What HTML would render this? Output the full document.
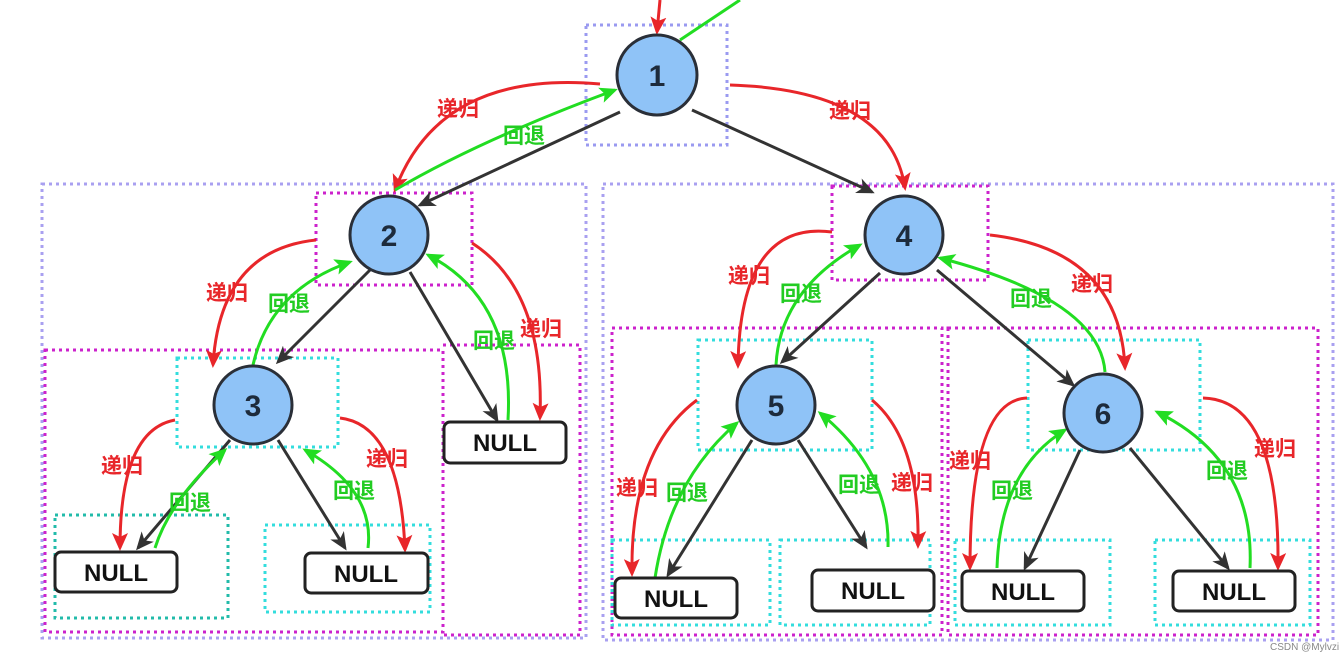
<!DOCTYPE html>
<html><head><meta charset="utf-8"><style>
html,body{margin:0;padding:0;background:#fff;}
svg{display:block;}
text{font-family:"Liberation Sans","Noto Sans CJK SC",sans-serif;}
.lb{font-size:21px;font-weight:bold;}
.r{fill:#e8262a;}.g{fill:#22cc22;}
.n{font-size:30px;font-weight:bold;fill:#1d2b3c;text-anchor:middle;}
.nl{font-size:24px;font-weight:bold;fill:#111;text-anchor:middle;}
</style></head><body>
<svg width="1339" height="663" viewBox="0 0 1339 663" xmlns="http://www.w3.org/2000/svg">
<defs>
<marker id="ab" markerWidth="18" markerHeight="16" refX="15" refY="8" orient="auto" markerUnits="userSpaceOnUse" viewBox="0 0 18 16"><path d="M0,0 L18,8 L0,16 L5,8z" fill="#333"/></marker>
<marker id="ar" markerWidth="18" markerHeight="16" refX="15" refY="8" orient="auto" markerUnits="userSpaceOnUse" viewBox="0 0 18 16"><path d="M0,0 L18,8 L0,16 L4,8z" fill="#e8262a"/></marker>
<marker id="ag" markerWidth="18" markerHeight="16" refX="15" refY="8" orient="auto" markerUnits="userSpaceOnUse" viewBox="0 0 18 16"><path d="M0,0 L18,8 L0,16 L4,8z" fill="#22dd22"/></marker>
</defs>
<g fill="none" stroke-width="3" stroke-dasharray="3 4">
<rect x="586" y="25" width="141" height="120" stroke="#9a9af0"/>
<rect x="42" y="184" width="544" height="454" stroke="#a9a0f0"/>
<rect x="603" y="184" width="730" height="456" stroke="#a9a0f0"/>
<rect x="316" y="193" width="156" height="92" stroke="#cc22cc"/>
<rect x="45" y="350" width="398" height="282" stroke="#cc22cc"/>
<path d="M443 345 H580 V635 H443" stroke="#cc22cc"/>
<rect x="177" y="358" width="161" height="89" stroke="#33dddd"/>
<rect x="55" y="515" width="173" height="103" stroke="#22bbaa"/>
<rect x="265" y="525" width="165" height="87" stroke="#33dddd"/>
<rect x="832" y="186" width="156" height="94" stroke="#cc22cc"/>
<rect x="612" y="328" width="330" height="307" stroke="#cc22cc"/>
<rect x="948" y="328" width="370" height="307" stroke="#cc22cc"/>
<rect x="698" y="340" width="174" height="110" stroke="#33dddd"/>
<rect x="1028" y="340" width="172" height="110" stroke="#33dddd"/>
<rect x="612" y="540" width="158" height="85" stroke="#33dddd"/>
<rect x="780" y="540" width="150" height="85" stroke="#33dddd"/>
<rect x="955" y="540" width="155" height="85" stroke="#33dddd"/>
<rect x="1155" y="540" width="155" height="85" stroke="#33dddd"/>
</g>
<g stroke="#333" stroke-width="3" fill="none" marker-end="url(#ab)">
<path d="M620 112 L420 205"/><path d="M692 110 L872 192"/>
<path d="M370 270 L278 362"/><path d="M410 272 L497 420"/>
<path d="M230 440 L138 548"/><path d="M278 440 L345 548"/>
<path d="M880 273 L782 362"/><path d="M937 270 L1073 385"/>
<path d="M752 440 L668 575"/><path d="M798 440 L866 547"/>
<path d="M1080 450 L1025 568"/><path d="M1130 448 L1228 568"/>
</g>
<g stroke="#e8262a" stroke-width="3" fill="none" marker-end="url(#ar)">
<path d="M660 0 L657 32"/>
<path d="M600 84 Q440 70 395 190"/>
<path d="M730 85 Q890 90 905 188"/>
<path d="M316 240 Q220 250 213 365"/>
<path d="M472 243 Q545 290 540 418"/>
<path d="M175 420 Q120 430 120 548"/>
<path d="M340 418 Q400 425 405 550"/>
<path d="M832 232 Q740 220 738 366"/>
<path d="M990 235 Q1120 250 1125 368"/>
<path d="M697 400 Q630 450 632 574"/>
<path d="M872 400 Q920 440 918 546"/>
<path d="M1027 398 Q970 400 970 568"/>
<path d="M1203 398 Q1280 400 1278 568"/>
</g>
<g stroke="#22dd22" stroke-width="3" fill="none" marker-end="url(#ag)">
<path d="M395 190 Q480 140 615 90"/>
<path d="M253 365 Q270 290 350 262"/>
<path d="M508 420 Q515 300 428 255"/>
<path d="M155 548 Q170 500 225 450"/>
<path d="M368 548 Q375 490 305 450"/>
<path d="M776 365 Q780 290 860 245"/>
<path d="M1105 372 Q1100 300 940 258"/>
<path d="M655 578 Q670 480 737 423"/>
<path d="M888 547 Q890 470 820 413"/>
<path d="M997 568 Q1000 470 1065 430"/>
<path d="M1250 568 Q1255 460 1157 412"/>
</g>
<path d="M680 40 L740 0" stroke="#22dd22" stroke-width="3"/>
<g fill="#8fc3f7" stroke="#2a2f38" stroke-width="3">
<circle cx="657" cy="75" r="40"/><circle cx="389" cy="235" r="39"/>
<circle cx="253" cy="405" r="39"/><circle cx="904" cy="235" r="39"/>
<circle cx="776" cy="405" r="39"/><circle cx="1103" cy="413" r="39"/>
</g>
<text class="n" x="657" y="86">1</text><text class="n" x="389" y="246">2</text>
<text class="n" x="253" y="416">3</text><text class="n" x="904" y="246">4</text>
<text class="n" x="776" y="416">5</text><text class="n" x="1103" y="424">6</text>
<g fill="#fff" stroke="#222" stroke-width="3">
<rect x="55" y="552" width="122" height="40" rx="6"/><rect x="305" y="553" width="123" height="40" rx="6"/>
<rect x="444" y="422" width="122" height="41" rx="6"/><rect x="615" y="578" width="122" height="40" rx="6"/>
<rect x="812" y="570" width="122" height="41" rx="6"/><rect x="962" y="571" width="122" height="40" rx="6"/>
<rect x="1173" y="571" width="122" height="40" rx="6"/>
</g>
<text class="nl" x="116" y="581">NULL</text><text class="nl" x="366" y="582">NULL</text>
<text class="nl" x="505" y="451">NULL</text><text class="nl" x="676" y="607">NULL</text>
<text class="nl" x="873" y="599">NULL</text><text class="nl" x="1023" y="600">NULL</text>
<text class="nl" x="1234" y="600">NULL</text>
<g class="lb">
<text class="r" x="437" y="116">递归</text><text class="g" x="503" y="143">回退</text>
<text class="r" x="829" y="118">递归</text>
<text class="r" x="206" y="300">递归</text><text class="g" x="268" y="311">回退</text>
<text class="g" x="473" y="348">回退</text><text class="r" x="520" y="336">递归</text>
<text class="r" x="101" y="473">递归</text><text class="g" x="169" y="510">回退</text>
<text class="g" x="333" y="498">回退</text><text class="r" x="366" y="466">递归</text>
<text class="r" x="728" y="283">递归</text><text class="g" x="780" y="301">回退</text>
<text class="g" x="1010" y="306">回退</text><text class="r" x="1071" y="291">递归</text>
<text class="r" x="616" y="495">递归</text><text class="g" x="666" y="500">回退</text>
<text class="g" x="838" y="492">回退</text><text class="r" x="891" y="490">递归</text>
<text class="r" x="949" y="468">递归</text><text class="g" x="991" y="498">回退</text>
<text class="g" x="1206" y="478">回退</text><text class="r" x="1254" y="456">递归</text>
</g>
<text x="1270" y="650" font-size="10" fill="#888">CSDN @Mylvzi</text>
</svg>
</body></html>
